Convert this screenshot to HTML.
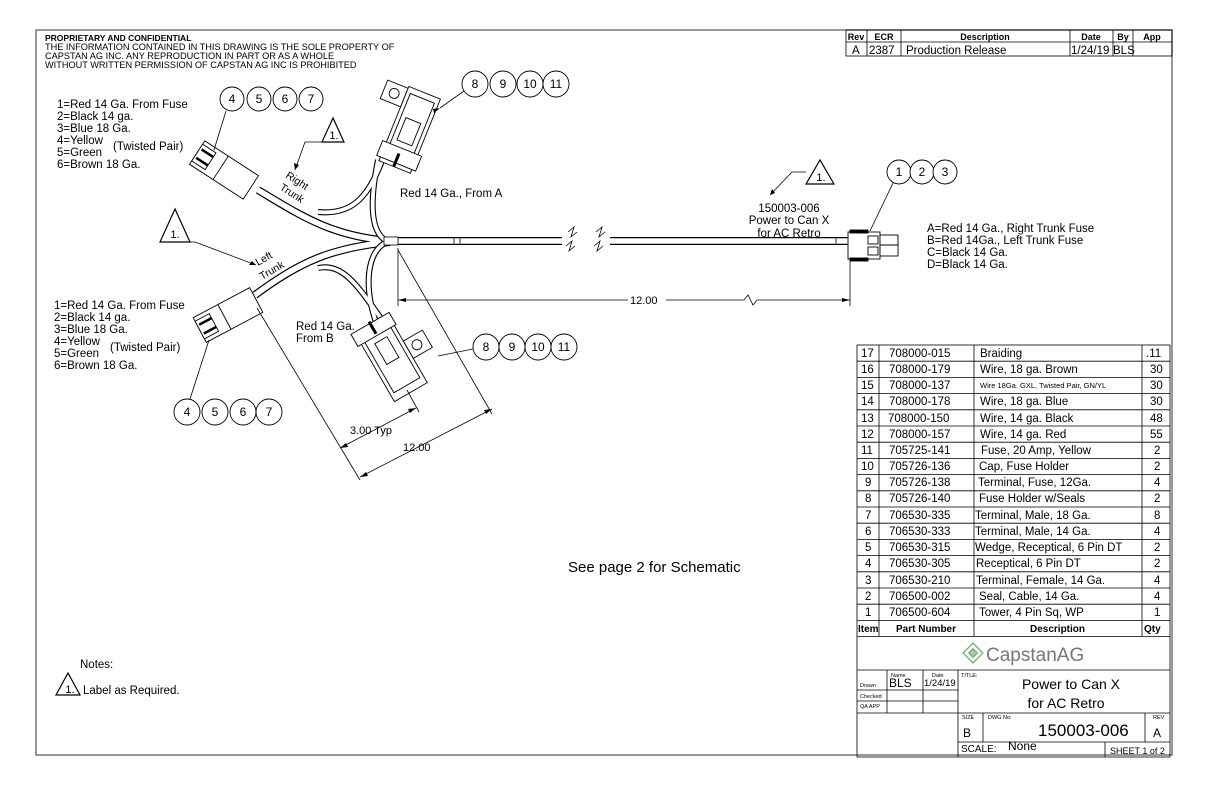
<!DOCTYPE html>
<html><head><meta charset="utf-8"><style>
html,body{margin:0;padding:0;background:#fff;}
svg{display:block;}
text{font-family:"Liberation Sans",sans-serif;fill:#000;}
</style></head><body>
<svg width="1224" height="792" viewBox="0 0 1224 792" xmlns="http://www.w3.org/2000/svg">
<rect x="36" y="30" width="1136" height="725" fill="none" stroke="#777" stroke-width="1.5"/>

<text x="45" y="41" font-size="8.5" font-weight="bold">PROPRIETARY AND CONFIDENTIAL</text>
<text x="45" y="50" font-size="9.2">THE INFORMATION CONTAINED IN THIS DRAWING IS THE SOLE PROPERTY OF</text>
<text x="45" y="59" font-size="9.2">CAPSTAN AG INC. ANY REPRODUCTION IN PART OR AS A WHOLE</text>
<text x="45" y="68" font-size="9.2">WITHOUT WRITTEN PERMISSION OF CAPSTAN AG INC IS PROHIBITED</text>

<g stroke="#000" stroke-width="0.8" fill="none">
<rect x="846" y="30" width="326" height="26"/>
<line x1="846" y1="42" x2="1172" y2="42"/>
<line x1="867" y1="30" x2="867" y2="56"/><line x1="901" y1="30" x2="901" y2="56"/>
<line x1="1070" y1="30" x2="1070" y2="56"/><line x1="1113" y1="30" x2="1113" y2="56"/>
<line x1="1133" y1="30" x2="1133" y2="56"/>
</g>
<g font-size="9" font-weight="bold" text-anchor="middle">
<text x="856" y="40">Rev</text><text x="884" y="40">ECR</text><text x="985" y="40">Description</text><text x="1091" y="40">Date</text><text x="1123" y="40">By</text><text x="1152" y="40">App</text></g>
<g font-size="11.5"><text x="852" y="54">A</text><text x="869" y="54">2387</text><text x="906" y="54">Production Release</text><text x="1071" y="54">1/24/19</text><text x="1113" y="54">BLS</text></g>

<g fill="none" stroke-linecap="butt">
<g stroke="#000" stroke-width="8">
<path d="M392,241 L848,241"/>
<path d="M390,241 C330,236 300,215 258,190"/>
<path d="M390,242 C330,248 300,262 255,295"/>
</g>
<g stroke="#fff" stroke-width="5.6">
<path d="M392,241 L848,241"/>
<path d="M390,241 C330,236 300,215 258,190"/>
<path d="M390,242 C330,248 300,262 255,295"/>
</g>
<g stroke="#000" stroke-width="6">
<path d="M385,240 C370,230 370,200 378,160"/>
<path d="M318,212 C350,215 368,200 383,158"/>
<path d="M385,243 C368,252 362,285 378,328"/>
<path d="M318,268 C345,262 360,290 388,328"/>
</g>
<g stroke="#fff" stroke-width="3.8">
<path d="M385,240 C370,230 370,200 378,160"/>
<path d="M318,212 C350,215 368,200 383,158"/>
<path d="M385,243 C368,252 362,285 378,328"/>
<path d="M318,268 C345,262 360,290 388,328"/>
</g>
</g>
<rect x="384" y="237" width="14" height="8" fill="#fff" stroke="#000" stroke-width="0.8"/>
<rect x="562" y="232" width="48" height="20" fill="#fff"/>
<g stroke="#000" stroke-width="0.8" fill="none">
<path d="M568,232 l6,-5 l-3,10 l6,-5 M566,246 l6,-5 l-3,10 l6,-5"/>
<path d="M596,232 l6,-5 l-3,10 l6,-5 M594,246 l6,-5 l-3,10 l6,-5"/>
<line x1="454" y1="237" x2="454" y2="245"/><line x1="460" y1="237" x2="460" y2="245"/>
<line x1="836" y1="237" x2="836" y2="245"/>
</g>

<g stroke="#000" stroke-width="0.9" fill="#fff">
<rect x="848" y="232" width="32" height="27"/>
<rect x="850" y="230" width="18" height="3" fill="#000"/>
<rect x="850" y="258" width="18" height="3" fill="#000"/>
<rect x="868" y="236" width="10" height="8"/><rect x="868" y="247" width="10" height="8"/>
<rect x="880" y="235" width="18" height="21"/>
<line x1="880" y1="245" x2="898" y2="245"/>
</g>

<g transform="translate(224,170) rotate(33)" stroke="#000" stroke-width="0.9" fill="#fff">
<rect x="-32" y="-14" width="64" height="28"/>
<line x1="-4" y1="-14" x2="-4" y2="14"/>
<rect x="-32" y="-10" width="16" height="20"/>
<line x1="-30" y1="-5" x2="-16" y2="-5" stroke-width="2.5"/>
<line x1="-30" y1="5" x2="-16" y2="5" stroke-width="2.5"/>
</g>
<g transform="translate(228,315) rotate(-28)" stroke="#000" stroke-width="0.9" fill="#fff">
<rect x="-32" y="-14" width="64" height="28"/>
<line x1="-4" y1="-14" x2="-4" y2="14"/>
<rect x="-32" y="-10" width="16" height="20"/>
<line x1="-30" y1="-5" x2="-16" y2="-5" stroke-width="2.5"/>
<line x1="-30" y1="5" x2="-16" y2="5" stroke-width="2.5"/>
</g>
<g transform="translate(405,128) rotate(22)" stroke="#000" stroke-width="0.9" fill="#fff">
<rect x="-34" y="-38" width="22" height="20"/>
<circle cx="-23" cy="-28" r="5"/>
<rect x="-12" y="-40" width="34" height="80"/>
<rect x="-8" y="-34" width="26" height="56"/>
<rect x="-3" y="-10" width="16" height="24"/>
<rect x="-16" y="20" width="42" height="16"/>
<line x1="4" y1="26" x2="4" y2="40" stroke-width="3"/>
</g>
<g transform="translate(390,358) rotate(-30)" stroke="#000" stroke-width="0.9" fill="#fff">
<rect x="20" y="-8" width="22" height="20"/>
<circle cx="30" cy="2" r="5"/>
<rect x="-18" y="-38" width="38" height="78"/>
<rect x="-14" y="-30" width="30" height="62"/>
<rect x="-6" y="-20" width="14" height="24"/>
<rect x="-22" y="-40" width="44" height="14"/>
<line x1="0" y1="-42" x2="0" y2="-28" stroke-width="3"/>
</g>

<g stroke="#000" stroke-width="0.9" fill="#fff">
<circle cx="232" cy="99" r="12"/><circle cx="259" cy="99" r="12"/><circle cx="285" cy="99" r="12"/><circle cx="311" cy="99" r="12"/>
<circle cx="475" cy="84" r="13"/><circle cx="503" cy="84" r="13"/><circle cx="530" cy="84" r="13"/><circle cx="556" cy="84" r="13"/>
<circle cx="899" cy="172" r="12"/><circle cx="922" cy="172" r="12"/><circle cx="945" cy="172" r="12"/>
<circle cx="486" cy="347" r="13"/><circle cx="512" cy="347" r="13"/><circle cx="538" cy="347" r="13"/><circle cx="564" cy="347" r="13"/>
<circle cx="187" cy="412" r="13"/><circle cx="215" cy="412" r="13"/><circle cx="243" cy="412" r="13"/><circle cx="269" cy="412" r="13"/>
</g>
<g font-size="12" text-anchor="middle">
<text x="232" y="103">4</text><text x="259" y="103">5</text><text x="285" y="103">6</text><text x="311" y="103">7</text>
<text x="475" y="88">8</text><text x="503" y="88">9</text><text x="530" y="88">10</text><text x="556" y="88">11</text>
<text x="899" y="176">1</text><text x="922" y="176">2</text><text x="945" y="176">3</text>
<text x="486" y="351">8</text><text x="512" y="351">9</text><text x="538" y="351">10</text><text x="564" y="351">11</text>
<text x="187" y="416">4</text><text x="215" y="416">5</text><text x="243" y="416">6</text><text x="269" y="416">7</text>
</g>

<g stroke="#000" stroke-width="0.8" fill="none">
<line x1="226" y1="111" x2="214" y2="150"/>
<line x1="464" y1="91" x2="440" y2="108"/>
<line x1="893" y1="183" x2="870" y2="231"/>
<line x1="473" y1="349" x2="438" y2="356"/>
<line x1="190" y1="399" x2="209" y2="340"/>
<path d="M322,142 L305,142 L295,170"/>
<path d="M165,242 L195,242 L256,265"/>
<path d="M806,172 L792,172 L770,195"/>
</g>
<g fill="#000">
<path d="M295,170 l-1,-7 l5,2 z"/>
<path d="M256,265 l-7,0 l3,-4 z"/>
<path d="M770,195 l2,-6 l3,4 z"/>
<path d="M440,108 l-6,5 l-1,-4 z"/>
</g>

<g stroke="#000" stroke-width="1.2" fill="#fff">
<path d="M333,118 L322,142 L344,142 Z"/>
<path d="M175,209 L160,242 L190,242 Z"/>
<path d="M820,160 L806,184 L834,184 Z"/>
<path d="M68,673 L56,695 L80,695 Z"/>
</g>
<g font-size="11" text-anchor="middle"><text x="334" y="139">1.</text><text x="175" y="238">1.</text><text x="821" y="181">1.</text><text x="70" y="693">1.</text></g>

<g font-size="11.5">
<text x="57" y="108">1=Red  14  Ga.  From Fuse</text>
<text x="57" y="120">2=Black 14 ga.</text>
<text x="57" y="132">3=Blue  18  Ga.</text>
<text x="57" y="144">4=Yellow</text>
<text x="113" y="150">(Twisted Pair)</text>
<text x="57" y="156">5=Green</text>
<text x="57" y="168">6=Brown 18 Ga.</text>
<text x="54" y="309">1=Red  14  Ga.  From Fuse</text>
<text x="54" y="321">2=Black 14 ga.</text>
<text x="54" y="333">3=Blue  18  Ga.</text>
<text x="54" y="345">4=Yellow</text>
<text x="110" y="351">(Twisted Pair)</text>
<text x="54" y="357">5=Green</text>
<text x="54" y="369">6=Brown 18 Ga.</text>
<text x="400" y="197">Red 14 Ga., From A</text>
<text x="296" y="330">Red 14 Ga.</text>
<text x="296" y="342">From B</text>
<text x="927" y="232">A=Red 14 Ga., Right Trunk Fuse</text>
<text x="927" y="244">B=Red 14Ga., Left Trunk Fuse</text>
<text x="927" y="256">C=Black 14 Ga.</text>
<text x="927" y="268">D=Black 14 Ga.</text>
</g>
<g font-size="11.5" text-anchor="middle">
<text x="789" y="212">150003-006</text>
<text x="789" y="224">Power to Can X</text>
<text x="789" y="237">for AC Retro</text>
</g>
<g font-size="10.5">
<text transform="translate(285,177) rotate(33)">Right</text>
<text transform="translate(279,189) rotate(33)">Trunk</text>
<text transform="translate(258,266) rotate(-30)">Left</text>
<text transform="translate(262,280) rotate(-30)">Trunk</text>
</g>

<g stroke="#000" stroke-width="0.8" fill="none">
<line x1="398" y1="248" x2="398" y2="306"/>
<line x1="850" y1="258" x2="850" y2="306"/>
<path d="M398,300 L628,300 M666,300 L744,300 l4,-5 l5,10 l4,-5 L850,300"/>
<line x1="398" y1="250" x2="492" y2="414"/>
<line x1="257" y1="308" x2="360" y2="480"/>
<line x1="360" y1="477" x2="492" y2="409"/>
<line x1="407" y1="390" x2="419" y2="412"/>
<line x1="340" y1="448" x2="416" y2="408"/>
</g>
<g fill="#000">
<path d="M398,300 l8,-2 l0,4 z"/>
<path d="M850,300 l-8,-2 l0,4 z"/>
<path d="M360,477 l6,-5 l2,4 z"/>
<path d="M492,409 l-6,5 l-2,-4 z"/>
<path d="M340,448 l6,-5 l2,4 z"/>
<path d="M416,408 l-6,5 l-2,-4 z"/>
</g>
<rect x="628" y="294" width="38" height="12" fill="#fff"/>
<g font-size="11"><text x="630" y="304">12.00</text><text x="350" y="434">3.00 Typ</text><text x="403" y="451">12.00</text></g>

<text x="568" y="572" font-size="15">See page 2 for Schematic</text>
<text x="80" y="668" font-size="11.5">Notes:</text>
<text x="83" y="694" font-size="11.5">Label as Required.</text>

<g stroke="#000" stroke-width="0.8" fill="none">
<rect x="857" y="345" width="313" height="412"/>
<line x1="879" y1="345" x2="879" y2="636"/>
<line x1="974" y1="345" x2="974" y2="636"/>
<line x1="1142" y1="345" x2="1142" y2="636"/>
<path d="M857,361.2H1170M857,377.4H1170M857,393.6H1170M857,409.8H1170M857,426H1170M857,442.2H1170M857,458.4H1170M857,474.6H1170M857,490.8H1170M857,507H1170M857,523.2H1170M857,539.4H1170M857,555.6H1170M857,571.8H1170M857,588H1170M857,604.2H1170M857,620.4H1170M857,636.6H1170"/>
<line x1="857" y1="670" x2="1170" y2="670"/>
<line x1="857" y1="713" x2="1170" y2="713"/>
<line x1="958" y1="742" x2="1170" y2="742"/>
<line x1="958" y1="670" x2="958" y2="757"/>
<line x1="887" y1="670" x2="887" y2="713"/>
<line x1="923" y1="670" x2="923" y2="713"/>
<line x1="857" y1="690" x2="958" y2="690"/>
<line x1="857" y1="701" x2="958" y2="701"/>
<line x1="983" y1="713" x2="983" y2="742"/>
<line x1="1145" y1="713" x2="1145" y2="742"/>
<line x1="1105" y1="742" x2="1105" y2="757"/>
</g>
<g font-size="11.5">
<text x="861" y="357">17</text><text x="889" y="357">708000-015</text><text x="980" y="357">Braiding</text><text x="1146" y="357">.11</text>
<text x="861" y="373">16</text><text x="889" y="373">708000-179</text><text x="980" y="373">Wire, 18 ga. Brown</text><text x="1150" y="373">30</text>
<text x="861" y="389">15</text><text x="889" y="389">708000-137</text><text x="980" y="388" font-size="7.5">Wire 18Ga. GXL, Twisted Pair, GN/YL</text><text x="1150" y="389">30</text>
<text x="861" y="405">14</text><text x="889" y="405">708000-178</text><text x="980" y="405">Wire, 18 ga. Blue</text><text x="1150" y="405">30</text>
<text x="861" y="422">13</text><text x="888" y="422">708000-150</text><text x="980" y="422">Wire, 14 ga. Black</text><text x="1150" y="422">48</text>
<text x="861" y="438">12</text><text x="889" y="438">708000-157</text><text x="980" y="438">Wire, 14 ga. Red</text><text x="1150" y="438">55</text>
<text x="861" y="454">11</text><text x="889" y="454">705725-141</text><text x="981" y="454">Fuse, 20 Amp, Yellow</text><text x="1154" y="454">2</text>
<text x="861" y="470">10</text><text x="889" y="470">705726-136</text><text x="979" y="470">Cap, Fuse Holder</text><text x="1154" y="470">2</text>
<text x="865" y="486">9</text><text x="889" y="486">705726-138</text><text x="978" y="486">Terminal, Fuse, 12Ga.</text><text x="1154" y="486">4</text>
<text x="865" y="502">8</text><text x="889" y="502">705726-140</text><text x="979" y="502">Fuse Holder w/Seals</text><text x="1154" y="502">2</text>
<text x="865" y="519">7</text><text x="889" y="519">706530-335</text><text x="975" y="519">Terminal, Male, 18 Ga.</text><text x="1154" y="519">8</text>
<text x="865" y="535">6</text><text x="889" y="535">706530-333</text><text x="975" y="535">Terminal, Male, 14 Ga.</text><text x="1154" y="535">4</text>
<text x="865" y="551">5</text><text x="889" y="551">706530-315</text><text x="975" y="551">Wedge, Receptical, 6 Pin DT</text><text x="1154" y="551">2</text>
<text x="865" y="567">4</text><text x="889" y="567">706530-305</text><text x="976" y="567">Receptical, 6 Pin DT</text><text x="1154" y="567">2</text>
<text x="865" y="584">3</text><text x="889" y="584">706530-210</text><text x="976" y="584">Terminal, Female, 14 Ga.</text><text x="1154" y="584">4</text>
<text x="865" y="600">2</text><text x="889" y="600">706500-002</text><text x="979" y="600">Seal, Cable, 14 Ga.</text><text x="1154" y="600">4</text>
<text x="865" y="616">1</text><text x="889" y="616">706500-604</text><text x="979" y="616">Tower, 4 Pin Sq, WP</text><text x="1154" y="616">1</text>
</g>
<g font-size="10" font-weight="bold">
<text x="858" y="632">Item</text><text x="896" y="632">Part Number</text><text x="1030" y="632">Description</text><text x="1144" y="632">Qty</text>
</g>
<g transform="translate(973,653) rotate(45)" fill="none" stroke="#6a6" stroke-width="1.2">
<rect x="-7" y="-7" width="14" height="14"/>
<rect x="-3" y="-3" width="6" height="6" fill="#aca"/>
</g>
<text x="986" y="661" font-size="19" style="fill:#777">CapstanAG</text>
<g font-size="5.5"><text x="891" y="677">Name</text><text x="932" y="677">Date</text><text x="961" y="677">TITLE:</text>
<text x="860" y="687">Drawn</text><text x="860" y="698">Checked</text><text x="860" y="708">QA APP</text>
<text x="962" y="719">SIZE</text><text x="988" y="719">DWG No:</text><text x="1153" y="719">REV</text></g>
<text x="889" y="687" font-size="12">BLS</text><text x="924" y="686" font-size="9.5">1/24/19</text>
<g font-size="14" text-anchor="middle"><text x="1071" y="689">Power to Can X</text><text x="1066" y="708">for AC Retro</text></g>
<text x="963" y="737" font-size="12">B</text>
<text x="1038" y="736" font-size="17">150003-006</text>
<text x="1153" y="737" font-size="12">A</text>
<text x="961" y="752" font-size="10">SCALE:</text>
<text x="1008" y="750" font-size="12">None</text>
<text x="1110" y="754" font-size="9">SHEET 1 of 2</text>
</svg>
</body></html>
